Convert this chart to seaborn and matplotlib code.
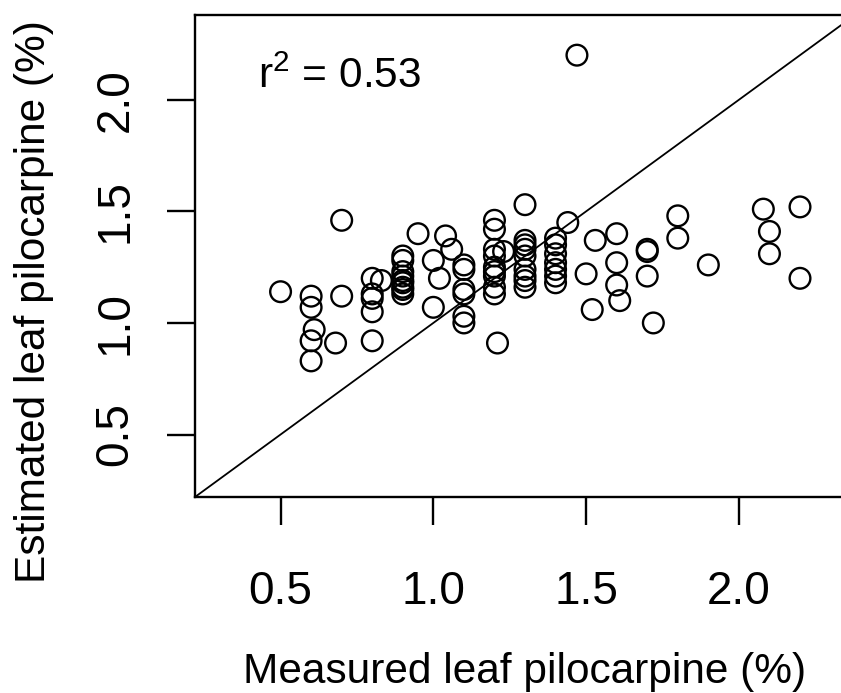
import numpy as np
import pandas as pd
import matplotlib
matplotlib.use("Agg")
import matplotlib.pyplot as plt
import seaborn as sns

# values
measured = [0.50, 0.60, 0.60, 0.61, 0.60, 0.60, 0.68, 0.70, 0.70,
            0.80, 0.83, 0.80, 0.80, 0.80, 0.80,
            0.90, 0.90, 0.90, 0.90, 0.90, 0.90, 0.90, 0.90, 0.90,
            0.95, 1.00, 1.02, 1.00, 1.04, 1.06,
            1.10, 1.10, 1.10, 1.10, 1.10, 1.10,
            1.20, 1.20, 1.20, 1.20, 1.20, 1.20, 1.20, 1.20, 1.20, 1.21, 1.23,
            1.30, 1.30, 1.30, 1.30, 1.30, 1.30, 1.30, 1.30, 1.30,
            1.40, 1.40, 1.40, 1.40, 1.40, 1.40, 1.40,
            1.44, 1.47, 1.50, 1.53, 1.52,
            1.60, 1.60, 1.60, 1.61, 1.70, 1.70, 1.70, 1.72,
            1.80, 1.80, 1.90, 2.08, 2.10, 2.10, 2.20, 2.20]
estimated = [1.14, 1.12, 1.07, 0.97, 0.92, 0.83, 0.91, 1.46, 1.12,
             1.20, 1.19, 1.13, 1.11, 1.05, 0.92,
             1.30, 1.28, 1.23, 1.21, 1.19, 1.18, 1.16, 1.15, 1.13,
             1.40, 1.28, 1.20, 1.07, 1.39, 1.33,
             1.26, 1.24, 1.15, 1.13, 1.03, 1.00,
             1.46, 1.42, 1.33, 1.30, 1.25, 1.23, 1.21, 1.16, 1.13, 0.91, 1.32,
             1.53, 1.37, 1.35, 1.33, 1.30, 1.24, 1.21, 1.19, 1.16,
             1.38, 1.35, 1.31, 1.27, 1.24, 1.21, 1.18,
             1.45, 2.20, 1.22, 1.37, 1.06,
             1.40, 1.27, 1.17, 1.10, 1.33, 1.32, 1.21, 1.00,
             1.48, 1.38, 1.26, 1.51, 1.41, 1.31, 1.52, 1.20]
ticks = [0.5, 1.0, 1.5, 2.0]
tick_labels = ["0.5", "1.0", "1.5", "2.0"]
r2_text = "r$^2$ = 0.53"

df = pd.DataFrame({"measured": measured, "estimated": estimated})

sns.set_style("ticks")
plt.rcParams['font.family'] = ['Liberation Sans', 'DejaVu Sans']
plt.rcParams['mathtext.fontset'] = 'custom'
plt.rcParams['mathtext.rm'] = 'Liberation Sans'
plt.rcParams['mathtext.it'] = 'Liberation Sans'
plt.rcParams['text.color'] = 'black'

W, H = 841, 693
fig = plt.figure(figsize=(W / 100, H / 100), dpi=100)
ax = fig.add_axes([195 / W, 1 - 497 / H, 660 / W, 482 / H])

sns.scatterplot(data=df, x="measured", y="estimated", ax=ax, s=222,
                facecolor="none", edgecolor="black", linewidth=1.7,
                marker="o", legend=False)
# 1:1 line
ax.axline((0, 0), slope=1, color="black", lw=1.3)

ax.set_xlim(0.22, 2.38)
ax.set_ylim(0.22, 2.38)
ax.set_xticks(ticks)
ax.set_xticklabels(tick_labels, fontsize=33)
ax.set_yticks(ticks)
ax.set_yticklabels(tick_labels, rotation=90, va="center", fontsize=33)
ax.tick_params(axis="both", length=20.5, width=1.7,
               color="black", labelcolor="black")
ax.tick_params(axis="x", pad=32)
ax.tick_params(axis="y", pad=21)
for sp in ax.spines.values():
    sp.set_visible(True)
    sp.set_linewidth(1.7)
    sp.set_color("black")
ax.set_xlabel("")
ax.set_ylabel("")

ax.text(0.425, 2.054, r2_text, ha="left", va="baseline", fontsize=30.5)

fig.text(525 / W, 1 - 683 / H, "Measured leaf pilocarpine (%)",
         ha="center", va="baseline", fontsize=30.5)
fig.text(45 / W, 1 - 302 / H, "Estimated leaf pilocarpine (%)",
         ha="center", va="baseline", rotation=90, rotation_mode="anchor",
         fontsize=30.5)

fig.savefig("out.png", dpi=100)
